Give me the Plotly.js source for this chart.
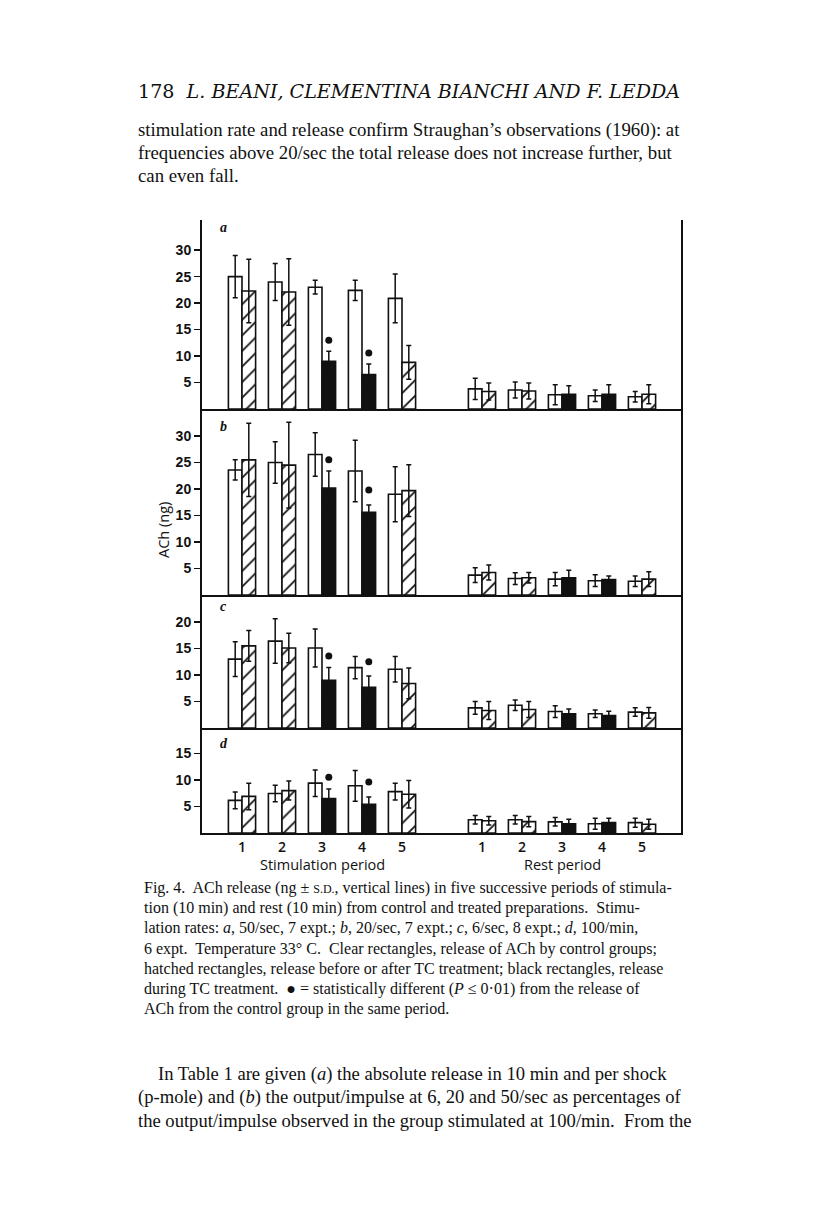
<!DOCTYPE html>
<html>
<head>
<meta charset="utf-8">
<script src="https://cdn.plot.ly/plotly-3.0.1.min.js"></script>
<style>
  html, body { margin: 0; padding: 0; background: #fff; }
  #chart { width: 816px; height: 1221px; }
</style>
</head>
<body>
<div id="chart"></div>
<script>
// group positions: stimulation periods 1-5, gap, rest periods 1-5
var positions = [1, 2, 3, 4, 5, 7, 8, 9, 10, 11];
var periodLabels = ["1", "2", "3", "4", "5", "1", "2", "3", "4", "5"];
// treated bar kind per period: hatched = before/after TC, black = during TC
var treatedKind = ["hatch", "hatch", "black", "black", "hatch", "hatch", "hatch", "black", "black", "hatch"];

// a, 50/sec
var ctrlA = [25.0, 24.0, 23.0, 22.4, 20.9, 3.8, 3.6, 2.7, 2.5, 2.3];
var ctrlA_sd = [4.0, 3.5, 1.3, 1.9, 4.6, 2.0, 1.5, 1.9, 1.1, 1.0];
var trtA = [22.3, 22.1, 9.0, 6.5, 8.8, 3.3, 3.4, 2.8, 2.8, 2.8];
var trtA_sd = [6.0, 6.3, 1.9, 2.0, 3.2, 1.6, 1.5, 1.6, 1.8, 1.8];
var sigA = [13.0, 10.6];

// b, 20/sec
var ctrlB = [23.6, 25.0, 26.5, 23.4, 19.0, 3.75, 3.1, 3.0, 2.7, 2.6];
var ctrlB_sd = [1.9, 3.9, 4.1, 5.8, 5.2, 1.4, 1.1, 1.25, 1.1, 1.0];
var trtB = [25.5, 24.5, 20.2, 15.6, 19.7, 4.25, 3.25, 3.25, 2.9, 3.0];
var trtB_sd = [6.9, 8.1, 3.2, 1.4, 4.9, 1.4, 1.0, 1.4, 0.7, 1.4];
var sigB = [25.5, 19.8];

// c, 6/sec
var ctrlC = [13.0, 16.4, 15.1, 11.4, 11.1, 3.8, 4.3, 3.1, 2.7, 3.0];
var ctrlC_sd = [3.3, 4.2, 3.6, 2.1, 2.4, 1.2, 1.0, 1.1, 0.7, 0.8];
var trtC = [15.5, 15.1, 9.0, 7.7, 8.4, 3.3, 3.5, 2.7, 2.35, 2.85];
var trtC_sd = [2.9, 2.8, 2.4, 2.1, 2.9, 1.7, 1.5, 0.9, 0.8, 1.0];
var sigC = [13.6, 12.5];

// d, 100/min
var ctrlD = [6.15, 7.45, 9.4, 8.9, 7.8, 2.5, 2.5, 2.1, 1.75, 1.95];
var ctrlD_sd = [1.6, 1.55, 2.5, 2.9, 1.6, 0.8, 0.8, 0.8, 1.05, 0.85];
var trtD = [6.9, 8.0, 6.5, 5.4, 7.3, 2.3, 2.15, 1.75, 1.95, 1.65];
var trtD_sd = [2.5, 1.8, 1.8, 1.4, 2.6, 0.8, 0.95, 0.85, 0.85, 0.95];
var sigD = [10.5, 9.6];

var sigPeriods = [3, 4];

var panels = [
    { letter: "a", ctrl: ctrlA, ctrlSd: ctrlA_sd, trt: trtA, trtSd: trtA_sd, sig: sigA, ticks: [5, 10, 15, 20, 25, 30], top: 35.7 },
    { letter: "b", ctrl: ctrlB, ctrlSd: ctrlB_sd, trt: trtB, trtSd: trtB_sd, sig: sigB, ticks: [5, 10, 15, 20, 25, 30], top: 35.1 },
    { letter: "c", ctrl: ctrlC, ctrlSd: ctrlC_sd, trt: trtC, trtSd: trtC_sd, sig: sigC, ticks: [5, 10, 15, 20], top: 25.1 },
    { letter: "d", ctrl: ctrlD, ctrlSd: ctrlD_sd, trt: trtD, trtSd: trtD_sd, sig: sigD, ticks: [5, 10, 15], top: 19.8 }
];

// panel edges in page pixels (top, bottom)
var panelPx = [[220, 409], [409, 595], [595, 728], [728, 833]];
var letterPx = [227, 426, 606, 743];
var H = 1221, W = 816;
var xLeft = 202, xRight = 681;

var BAR_W = 0.34;
var tickFont = { family: "Liberation Sans", size: 14, color: "#111", weight: "bold" };
var ink = "#111";

function pick(arr, kind) {
    return arr.map(function (v, j) { return treatedKind[j] === kind ? v : null; });
}

var data = [];
var layout = {
    width: W,
    height: H,
    margin: { l: 0, r: 0, t: 0, b: 0 },
    paper_bgcolor: "white",
    plot_bgcolor: "white",
    barmode: "overlay",
    showlegend: false,
    annotations: []
};

panels.forEach(function (p, i) {
    var n = i + 1;
    var xa = n === 1 ? "x" : "x" + n;
    var ya = n === 1 ? "y" : "y" + n;

    // clear rectangles: control group
    data.push({
        type: "bar",
        x: positions,
        y: p.ctrl,
        xaxis: xa,
        yaxis: ya,
        offset: -BAR_W,
        width: BAR_W,
        marker: { color: "white", line: { color: ink, width: 1.6 } },
        error_y: { type: "data", array: p.ctrlSd, visible: true, color: ink, thickness: 1.5, width: 2.5 }
    });

    // hatched rectangles: before / after TC
    data.push({
        type: "bar",
        x: positions,
        y: pick(p.trt, "hatch"),
        xaxis: xa,
        yaxis: ya,
        offset: 0,
        width: BAR_W,
        marker: {
            color: "white",
            line: { color: ink, width: 1.6 },
            pattern: { shape: "/", fgcolor: ink, bgcolor: "white", size: 11, solidity: 0.16 }
        },
        error_y: { type: "data", array: pick(p.trtSd, "hatch"), visible: true, color: ink, thickness: 1.5, width: 2.5 }
    });

    // black rectangles: during TC
    data.push({
        type: "bar",
        x: positions,
        y: pick(p.trt, "black"),
        xaxis: xa,
        yaxis: ya,
        offset: 0,
        width: BAR_W,
        marker: { color: ink, line: { color: ink, width: 1.6 } },
        error_y: { type: "data", array: pick(p.trtSd, "black"), visible: true, color: ink, thickness: 1.5, width: 2.5 }
    });

    // significance dots
    data.push({
        type: "scatter",
        mode: "markers",
        x: sigPeriods.map(function (s) { return s + BAR_W / 2; }),
        y: p.sig,
        xaxis: xa,
        yaxis: ya,
        marker: { color: ink, size: 7 }
    });

    var top = panelPx[i][0], bot = panelPx[i][1];
    layout[n === 1 ? "xaxis" : "xaxis" + n] = {
        domain: [xLeft / W, xRight / W],
        range: [0, (xRight - xLeft) / 40],
        anchor: ya,
        matches: n === 1 ? undefined : "x",
        showline: true,
        linecolor: ink,
        linewidth: 2,
        showgrid: false,
        zeroline: false,
        ticks: "",
        tickvals: positions,
        ticktext: periodLabels,
        showticklabels: n === 4,
        tickfont: { family: "Open Sans", size: 14, color: ink, weight: 600 }
    };
    layout[n === 1 ? "yaxis" : "yaxis" + n] = {
        domain: [1 - bot / H, 1 - top / H],
        range: [0, p.top],
        anchor: xa,
        showline: true,
        mirror: true,
        linecolor: ink,
        linewidth: 2,
        showgrid: false,
        zeroline: false,
        ticks: "outside",
        ticklen: 6,
        tickwidth: 1.5,
        tickcolor: ink,
        tickvals: p.ticks,
        tickfont: tickFont
    };

    layout.annotations.push({
        xref: "paper", yref: "paper",
        x: 218 / W, y: 1 - letterPx[i] / H,
        xanchor: "left", yanchor: "middle",
        text: "<i>" + p.letter + "</i>",
        showarrow: false,
        font: { family: "Liberation Serif", size: 14, color: ink, weight: "bold" }
    });
});

function pageText(txt, x, y, size, anchor, extra) {
    var a = {
        xref: "paper", yref: "paper",
        x: x / W, y: 1 - y / H,
        xanchor: anchor || "left", yanchor: "middle",
        text: txt,
        showarrow: false,
        font: { family: "Liberation Serif", size: size, color: ink }
    };
    if (extra) { for (var k in extra) { a[k] = extra[k]; } }
    layout.annotations.push(a);
}

var sansLabel = { family: "Open Sans", size: 14.5, color: ink, weight: 500 };
// axis labels
pageText("Stimulation period", 322, 864, 14.5, "center", { font: sansLabel });
pageText("Rest period", 562, 864, 14.5, "center", { font: sansLabel });
pageText("ACh (ng)", 164, 530, 14.5, "center", { textangle: -90, font: sansLabel });

// page header and body text
pageText("178  <i>L. BEANI, CLEMENTINA BIANCHI AND F. LEDDA</i>", 136, 92, 19,
    "left", { font: { family: "DejaVu Serif", size: 19.1, color: ink } });
var bodyTop = [
    "stimulation rate and release confirm Straughan’s observations (1960): at",
    "frequencies above 20/sec the total release does not increase further, but",
    "can even fall."
];
bodyTop.forEach(function (t, i) { pageText(t, 136, 130 + i * 23, 18.8); });

var caption = [
    "Fig. 4.  ACh release (ng ± <span style='font-size:12px'>S.D.</span>, vertical lines) in five successive periods of stimula-",
    "tion (10 min) and rest (10 min) from control and treated preparations.  Stimu-",
    "lation rates: <i>a</i>, 50/sec, 7 expt.; <i>b</i>, 20/sec, 7 expt.; <i>c</i>, 6/sec, 8 expt.; <i>d</i>, 100/min,",
    "6 expt.  Temperature 33° C.  Clear rectangles, release of ACh by control groups;",
    "hatched rectangles, release before or after TC treatment; black rectangles, release",
    "during TC treatment.  ● = statistically different (<i>P</i> ≤ 0·01) from the release of",
    "ACh from the control group in the same period."
];
caption.forEach(function (t, i) { pageText(t, 142, 888 + i * 20.2, 16); });

var bodyBottom = [
    "In Table 1 are given (<i>a</i>) the absolute release in 10 min and per shock",
    "(p-mole) and (<i>b</i>) the output/impulse at 6, 20 and 50/sec as percentages of",
    "the output/impulse observed in the group stimulated at 100/min.  From the"
];
bodyBottom.forEach(function (t, i) { pageText(t, i === 0 ? 156 : 136, 1074 + i * 23, 18.6); });

Plotly.newPlot("chart", data, layout, { staticPlot: true });
</script>
</body>
</html>
